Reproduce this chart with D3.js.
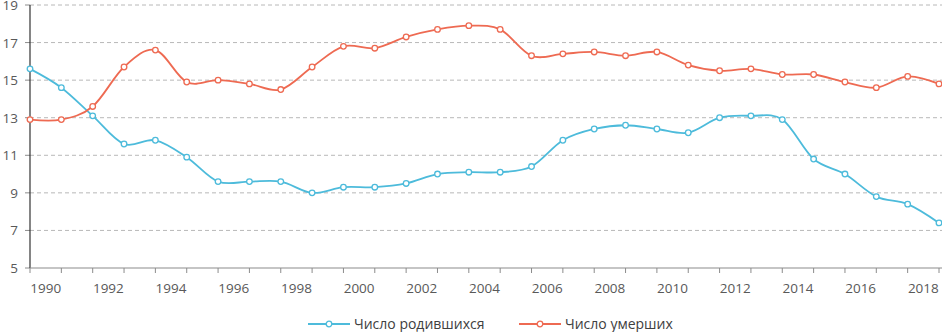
<!DOCTYPE html>
<html>
<head>
<meta charset="utf-8">
<script src="https://cdn.jsdelivr.net/npm/d3@7"></script>
<style>
  body { margin: 0; background: #fff; }
  svg { display: block; font-family: "Open Sans", sans-serif; }
</style>
</head>
<body>
<div id="chart"></div>
<script>
const years = [1990, 1991, 1992, 1993, 1994, 1995, 1996, 1997, 1998, 1999,
               2000, 2001, 2002, 2003, 2004, 2005, 2006, 2007, 2008, 2009,
               2010, 2011, 2012, 2013, 2014, 2015, 2016, 2017, 2018, 2019];
const births = [15.6, 14.6, 13.1, 11.6, 11.8, 10.9, 9.6, 9.6, 9.6, 9.0,
                9.3, 9.3, 9.5, 10.0, 10.1, 10.1, 10.4, 11.8, 12.4, 12.6,
                12.4, 12.2, 13.0, 13.1, 12.9, 10.8, 10.0, 8.8, 8.4, 7.4];
const deaths = [12.9, 12.9, 13.6, 15.7, 16.6, 14.9, 15.0, 14.8, 14.5, 15.7,
                16.8, 16.7, 17.3, 17.7, 17.9, 17.7, 16.3, 16.4, 16.5, 16.3,
                16.5, 15.8, 15.5, 15.6, 15.3, 15.3, 14.9, 14.6, 15.2, 14.8];
const xLabels = ["1990", "1992", "1994", "1996", "1998", "2000", "2002", "2004",
                 "2006", "2008", "2010", "2012", "2014", "2016", "2018"];
const yTicks = [5, 7, 9, 11, 13, 15, 17, 19];
const seriesNames = ["Число родившихся", "Число умерших"];

const w = 942, h = 332;
const margin = {top: 5, right: 2, bottom: 64, left: 30};
const colors = ["#4dbbdb", "#ee6a52"];

const svg = d3.select("#chart").append("svg").attr("width", w).attr("height", h);

const x = d3.scalePoint().domain(years).range([margin.left, 939]);
const y = d3.scaleLinear().domain([5, 19]).range([h - margin.bottom, margin.top]);
const y0 = y(5);

// сетка
svg.append("g").selectAll("line").data(yTicks.slice(1)).join("line")
    .attr("x1", margin.left).attr("x2", w)
    .attr("y1", d => y(d)).attr("y2", d => y(d))
    .attr("stroke", "#b8b8b8").attr("stroke-width", 1)
    .attr("stroke-dasharray", "4,3");

// ось Y
svg.append("g").selectAll("line").data(yTicks).join("line")
    .attr("x1", margin.left - 5).attr("x2", margin.left)
    .attr("y1", d => y(d)).attr("y2", d => y(d))
    .attr("stroke", "#8c8c8c");
svg.append("line")
    .attr("x1", margin.left).attr("x2", margin.left)
    .attr("y1", margin.top).attr("y2", y0)
    .attr("stroke", "#333").attr("stroke-width", 1.2);
svg.append("g").selectAll("text").data(yTicks).join("text")
    .attr("x", 18).attr("y", d => y(d) + 5)
    .attr("text-anchor", "end")
    .style("font-size", "13.5px").style("fill", "#595959")
    .text(d => d);

// ось X
svg.append("line")
    .attr("x1", margin.left).attr("x2", w)
    .attr("y1", y0).attr("y2", y0)
    .attr("stroke", "#8c8c8c").attr("stroke-width", 1.2);
svg.append("g").selectAll("line").data(years).join("line")
    .attr("x1", d => x(d)).attr("x2", d => x(d))
    .attr("y1", y0).attr("y2", y0 + 5)
    .attr("stroke", "#8c8c8c");
svg.append("g").selectAll("text").data(xLabels).join("text")
    .attr("x", d => x(+d) + x.step() / 2)
    .attr("y", y0 + 25)
    .attr("text-anchor", "middle")
    .style("font-size", "13.5px").style("fill", "#595959")
    .text(d => d);

// линии
const line = d3.line()
    .x((d, i) => x(years[i]))
    .y(d => y(d))
    .curve(d3.curveCatmullRom.alpha(0));

[births, deaths].forEach((vals, k) => {
    svg.append("path").datum(vals)
        .attr("d", line)
        .attr("fill", "none")
        .attr("stroke", colors[k]).attr("stroke-width", 1.8);
    svg.append("g").selectAll("circle").data(vals).join("circle")
        .attr("cx", (d, i) => x(years[i]))
        .attr("cy", d => y(d))
        .attr("r", 2.8)
        .attr("fill", "#fff")
        .attr("stroke", colors[k]).attr("stroke-width", 1.3);
});

// легенда
const legendX = [308, 519];
const leg = svg.append("g").selectAll("g").data(seriesNames).join("g")
    .attr("transform", (d, i) => `translate(${legendX[i]},324)`);
leg.append("line")
    .attr("x1", 0).attr("x2", 42)
    .attr("stroke", (d, i) => colors[i]).attr("stroke-width", 1.8);
leg.append("circle")
    .attr("cx", 21).attr("r", 2.8)
    .attr("fill", "#fff")
    .attr("stroke", (d, i) => colors[i]).attr("stroke-width", 1.3);
leg.append("text")
    .attr("x", 46).attr("y", 5)
    .style("font-size", "14px").style("fill", "#404040")
    .text(d => d);
</script>
</body>
</html>
